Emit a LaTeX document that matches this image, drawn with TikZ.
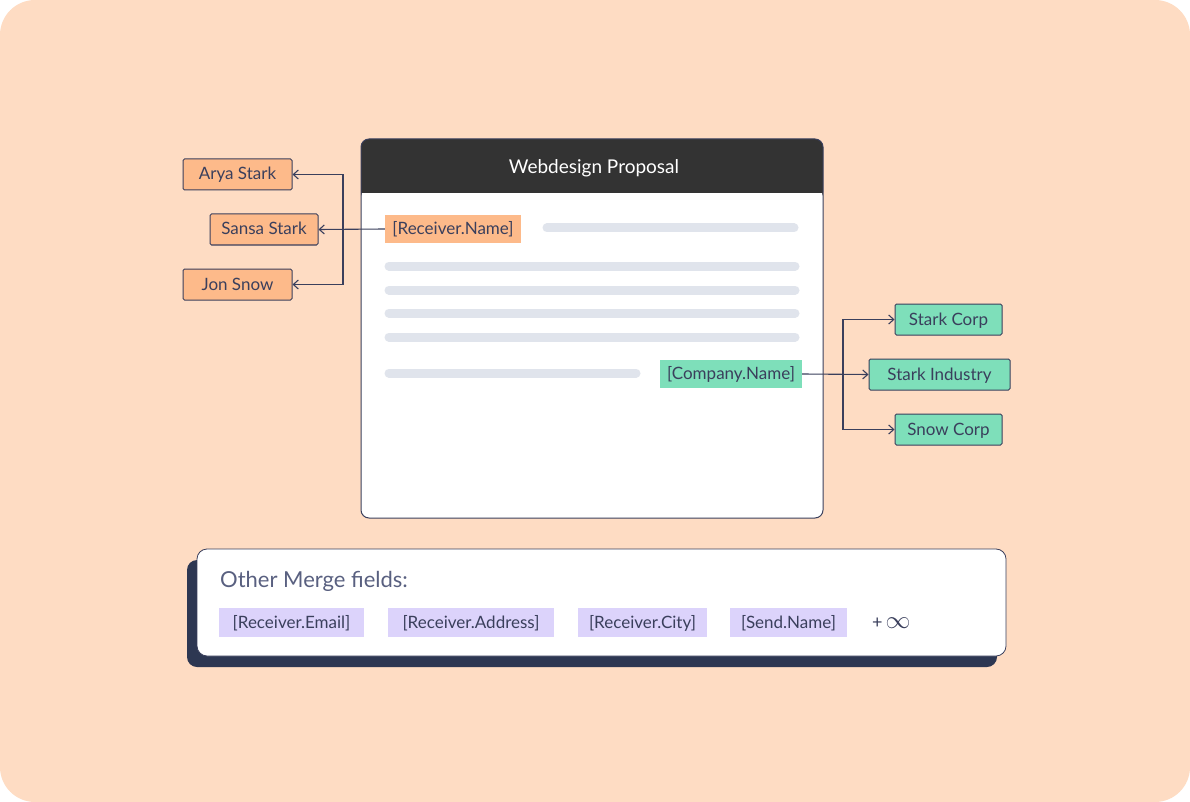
\documentclass[tikz,border=0pt]{standalone}
\usepackage{fontspec}
\setmainfont{Lato}
\usetikzlibrary{arrows.meta}
\definecolor{bg}{HTML}{FEDCC3}
\definecolor{ink}{HTML}{3A3F5C}
\definecolor{org}{HTML}{FDBA8A}
\definecolor{grn}{HTML}{7EDFBA}
\definecolor{pur}{HTML}{DCD3FB}
\definecolor{lin}{HTML}{E0E4EC}
\definecolor{hdr}{HTML}{333333}
\definecolor{shd}{HTML}{2D3752}
\definecolor{sub}{HTML}{596080}
\begin{document}
\begin{tikzpicture}[x=1pt,y=-1pt,
 tag/.style={draw=ink,line width=1pt,rounded corners=1.5pt,font=\fontsize{17}{18}\selectfont,text=ink,anchor=center,inner sep=0pt,text depth=0pt,text height=11pt},
 fld/.style={inner sep=0pt,font=\fontsize{17}{18}\selectfont,text=ink,text depth=0pt,text height=11pt},
 con/.style={draw=ink,line width=1.1pt,-{Straight Barb[length=5pt,width=9pt]}},
 gl/.style={lin,line width=9pt,line cap=round}]
\useasboundingbox (0,0) rectangle (1190,802);
\fill[white] (0,0) rectangle (1190,802);
\fill[bg,rounded corners=35pt] (0,0) rectangle (1190,802);
% document
\fill[white,rounded corners=8pt] (361,139) rectangle (823,518);
\fill[hdr,rounded corners=8pt] (361,139) rectangle (823,200);
\fill[white] (362,193) rectangle (822,205);
\draw[ink,line width=1pt,rounded corners=8pt] (361,139) rectangle (823,518);
\node[text=white,font=\fontsize{19}{20}\selectfont] (title) at (594,168) {Webdesign Proposal};
\draw[gl] (547,228) -- (794,228);
\foreach \y in {266,290,313,337} \draw[gl] (389,\y) -- (795,\y);
\draw[gl] (389,373) -- (636,373);
\node[fld,fill=org,minimum width=136pt,minimum height=28pt] (rn) at (453,229) {[Receiver.Name]};
\node[fld,fill=grn,minimum width=142pt,minimum height=28pt] (cn) at (731,374) {[Company.Name]};
% left
\node[tag,fill=org,minimum width=109pt,minimum height=31pt] (arya) at (237.5,174.5) {Arya Stark};
\node[tag,fill=org,minimum width=108pt,minimum height=31pt] (sansa) at (264,229.5) {Sansa Stark};
\node[tag,fill=org,minimum width=109pt,minimum height=31pt] (jon) at (237.5,284.5) {Jon Snow};
\coordinate (lt) at (343,174.5);
\coordinate (lb) at (343,284.5);
\draw[con] (rn.west) -- (sansa.east);
\draw[con] (lt |- rn.west) -- (lt) -- (arya.east);
\draw[con] (lt |- rn.west) -- (lb) -- (jon.east);
% right
\node[tag,fill=grn,minimum width=107pt,minimum height=31pt] (sc) at (948.5,319.5) {Stark Corp};
\node[tag,fill=grn,minimum width=141pt,minimum height=31pt] (si) at (939.5,374.5) {Stark Industry};
\node[tag,fill=grn,minimum width=107pt,minimum height=31pt] (snc) at (948.5,429.5) {Snow Corp};
\coordinate (rt) at (843,319.5);
\coordinate (rb) at (843,429.5);
\draw[con] (cn.east) -- (si.west);
\draw[con] (rt |- cn.east) -- (rt) -- (sc.west);
\draw[con] (rt |- cn.east) -- (rb) -- (snc.west);
% bottom card
\fill[shd,rounded corners=10pt] (187,560) rectangle (997,667);
\fill[white,rounded corners=10pt] (197,549) rectangle (1006,656);
\draw[ink,line width=0.8pt,rounded corners=10pt] (197,549) rectangle (1006,656);
\node[anchor=west,text=sub,font=\fontsize{22}{24}\selectfont,inner sep=0pt] (om) at (220,581) {Other Merge fields:};
\node[fld,fill=pur,minimum width=145pt,minimum height=29pt] (f1) at (291.5,622.5) {[Receiver.Email]};
\node[fld,fill=pur,minimum width=166pt,minimum height=29pt] (f2) at (471,622.5) {[Receiver.Address]};
\node[fld,fill=pur,minimum width=129pt,minimum height=29pt] (f3) at (642.5,622.5) {[Receiver.City]};
\node[fld,fill=pur,minimum width=117pt,minimum height=29pt] (f4) at (788.5,622.5) {[Send.Name]};
\node[anchor=west,text=ink,font=\fontsize{18}{20}\selectfont,inner sep=0pt] (inf) at (872,623) {+\,{\fontsize{28}{28}\selectfont$\infty$}};
\end{tikzpicture}
\end{document}
